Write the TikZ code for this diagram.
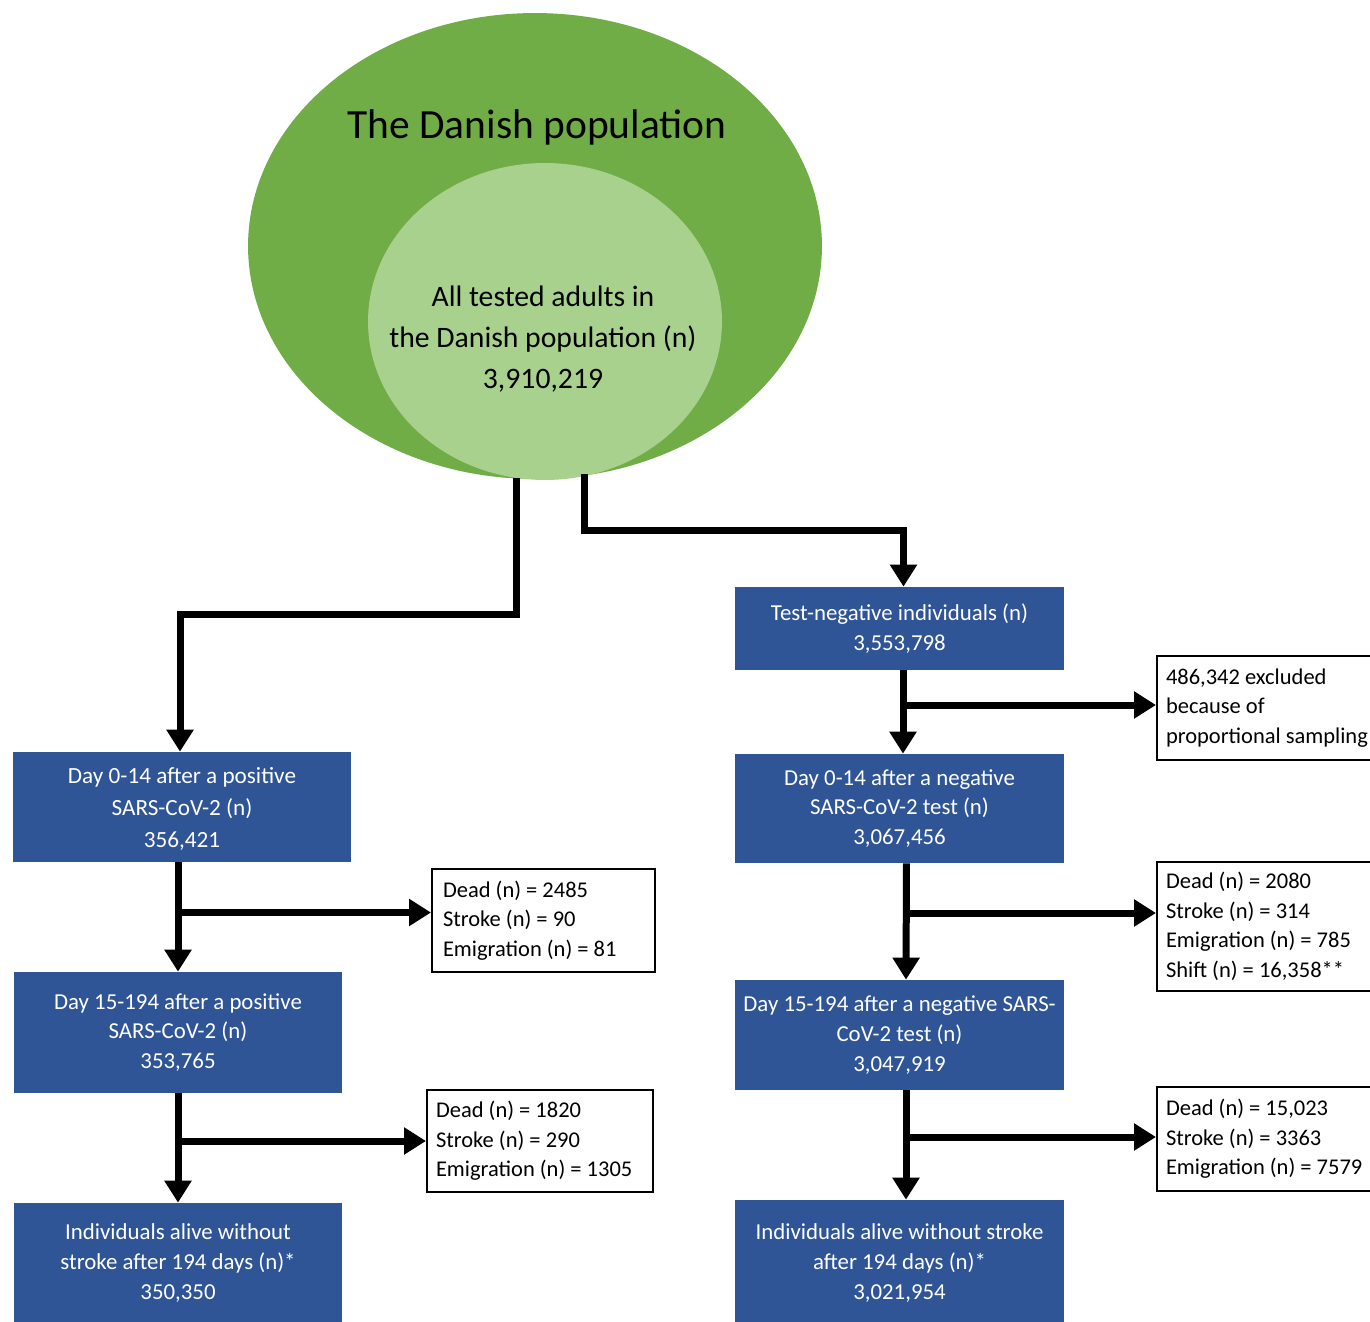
\documentclass[tikz,border=0pt]{standalone}
\usepackage{fontspec}
\setmainfont{Carlito}
\usetikzlibrary{arrows.meta,shapes.geometric,calc}
\definecolor{dkgreen}{HTML}{70AD47}
\definecolor{ltgreen}{HTML}{A9D18E}
\definecolor{boxblue}{HTML}{2F5597}
\begin{document}
\begin{tikzpicture}[x=0.02cm,y=-0.02cm,
  bluebox/.style={fill=boxblue, text=white, align=flush center, inner sep=0pt,
    font=\fontsize{13}{17}\selectfont},
  exitbox/.style={draw=black, line width=0.04cm, fill=white, align=flush left,
    inner xsep=0.18cm, inner ysep=0pt, anchor=west,
    font=\fontsize{12.8}{16.8}\selectfont},
  flowline/.style={line width=0.14cm},
  flow/.style={line width=0.14cm, -{Triangle[width=0.52cm,length=0.44cm]}}
]
\useasboundingbox (0,0) rectangle (1370,1322);
\clip (0,0) rectangle (1370,1322);

% ellipses
\node[ellipse, fill=dkgreen, minimum width=11.48cm, minimum height=9.32cm, inner sep=0pt] (outer) at (535,246) {};
\node[ellipse, fill=ltgreen, minimum width=7.08cm, minimum height=6.34cm, inner sep=0pt] (inner) at (545,321.5) {};
\node[font=\fontsize{23.6}{28}\selectfont] (title) at (537,127) {The Danish population};
\node[align=flush center, font=\fontsize{16.9}{23.5}\selectfont] (innertext) at (543,339)
  {All tested adults in\\the Danish population (n)\\3,910,219};

% blue boxes
\node[bluebox, minimum width=6.58cm, minimum height=1.66cm] (tneg) at (899.5,628.5)
  {Test-negative individuals (n)\\3,553,798};
\node[bluebox, minimum width=6.76cm, minimum height=2.2cm, text depth=0pt,
      font=\fontsize{13.2}{18.2}\selectfont] (L1) at (182,807)
  {Day 0-14 after a positive\\SARS-CoV-2 (n)\\356,421};
\node[bluebox, minimum width=6.58cm, minimum height=2.18cm] (R1) at (899.5,808.5)
  {Day 0-14 after a negative\\SARS-CoV-2 test (n)\\3,067,456};
\node[bluebox, minimum width=6.56cm, minimum height=2.42cm] (L2) at (178,1032.5)
  {Day 15-194 after a positive\\SARS-CoV-2 (n)\\353,765};
\node[bluebox, minimum width=6.58cm, minimum height=2.2cm] (R2) at (899.5,1035)
  {Day 15-194 after a negative SARS-\\CoV-2 test (n)\\3,047,919};
\node[bluebox, minimum width=6.56cm, minimum height=2.4cm] (L3) at (178,1263)
  {Individuals alive without\\stroke after 194 days (n)*\\350,350};
\node[bluebox, minimum width=6.58cm, minimum height=2.52cm] (R3) at (899.5,1263)
  {Individuals alive without stroke\\after 194 days (n)*\\3,021,954};

% exit boxes
\node[exitbox, text width=4.12cm, minimum height=2.08cm] (X0) at (1156,708)
  {486,342 excluded\\because of\\proportional sampling};
\node[exitbox, inner xsep=0.22cm, text width=4.02cm, minimum height=2.06cm] (LE1) at (431,920.5)
  {Dead (n) = 2485\\Stroke (n) = 90\\Emigration (n) = 81};
\node[exitbox, text width=4.12cm, minimum height=2.58cm] (RE1) at (1156,926.5)
  {Dead (n) = 2080\\Stroke (n) = 314\\Emigration (n) = 785\\Shift (n) = 16,358**};
\node[exitbox, text width=4.16cm, minimum height=2.04cm] (LE2) at (426,1141)
  {Dead (n) = 1820\\Stroke (n) = 290\\Emigration (n) = 1305};
\node[exitbox, text width=4.12cm, minimum height=2.08cm] (RE2) at (1156,1139)
  {Dead (n) = 15,023\\Stroke (n) = 3363\\Emigration (n) = 7579};

% connectors from the population
\coordinate (ls) at ($(inner.south)+(-29,-2)$);
\coordinate (rs) at ($(inner.south)+(39,-6)$);
\draw[flow] (ls) -- ++(0,136) -| ([xshift=-0.04cm]L1.north);
\draw[flow] (rs) -- ++(0,56) -| ([xshift=0.08cm]tneg.north);

% left column
\draw[flow] (L2.north |- L1.south) -- (L2.north);
\coordinate (b1) at ($(LE1.west)+(0,-8)$);
\draw[flow] (b1 -| L2.north) -- (b1);
\draw[flow] (L2.south) -- (L3.north);
\draw[flow] (LE2.west -| L2.south) -- (LE2.west);

% right column
\draw[flow] ([xshift=0.07cm]tneg.south) -- ([xshift=0.07cm]R1.north);
\coordinate (b0) at ($(X0.west)+(0,-3)$);
\draw[flow] ($(b0 -| tneg.south)+(3.5,0)$) -- (b0);
\draw[flow] ([xshift=0.14cm]R1.south) -- ([xshift=0.13cm]R2.north);
\coordinate (b2) at ($(RE1.west)+(0,-13.5)$);
\draw[flow] ($(b2 -| R1.south)+(7,0)$) -- (b2);
\draw[flow] ([xshift=0.13cm]R2.south) -- ([xshift=0.13cm]R3.north);
\coordinate (b3) at ($(RE2.west)+(0,-2)$);
\draw[flow] ($(b3 -| R2.south)+(6.5,0)$) -- (b3);
\end{tikzpicture}
\end{document}
